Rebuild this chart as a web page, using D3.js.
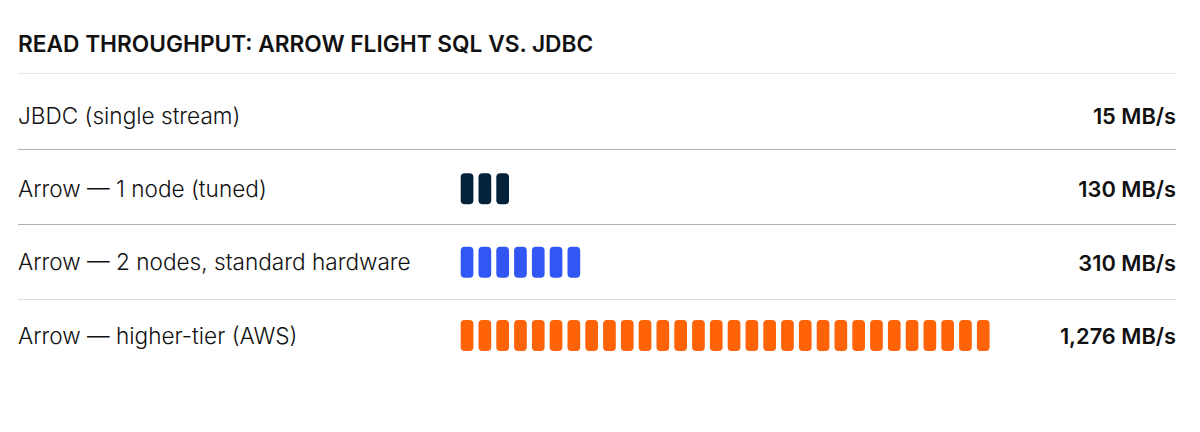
<!DOCTYPE html>
<html>
<head>
<meta charset="utf-8">
<script src="https://cdn.jsdelivr.net/npm/d3@7"></script>
<style>
  body { margin: 0; background: #fff; }
  text { font-family: Inter, "Noto Sans", sans-serif; fill: #111; }
</style>
</head>
<body>
<svg id="canvas"></svg>
<script>
// data
let title = "READ THROUGHPUT: ARROW FLIGHT SQL VS. JDBC";
let labels = [
  "JBDC (single stream)",
  "Arrow \u2014 1 node (tuned)",
  "Arrow \u2014 2 nodes, standard hardware",
  "Arrow \u2014 higher-tier (AWS)"
];
let values = [15, 130, 310, 1276];
let valueLabels = ["15 MB/s", "130 MB/s", "310 MB/s", "1,276 MB/s"];
let colors = ["#04223a", "#04223a", "#3156f3", "#ff6307"];
let unitSize = 42.5; // MB/s per block

let width = 1200;
let height = 432;

let canvas = d3.select("#canvas");
canvas.attr("width", width).attr("height", height);

// row centres and the rules between them
let yScale = d3.scalePoint().domain(d3.range(labels.length)).range([115.5, 335.5]);
let ruleScale = d3.scaleLinear().domain([1, 3]).range([149.5, 300]);
let xUnit = d3.scaleLinear().domain([0, 1]).range([460.7, 478.5]);

// title
canvas.append("text")
  .attr("x", 18)
  .attr("y", 51.5)
  .attr("font-size", 22.7)
  .attr("font-weight", 600)
  .text(title);

// top rule
canvas.append("line")
  .attr("x1", 18).attr("x2", 1176)
  .attr("y1", 73.5).attr("y2", 73.5)
  .attr("stroke", "#e6e6e6");

// row dividers
let lineColors = ["#b0b0b0", "#b0b0b0", "#dcdcdc"];
canvas.selectAll("line.divider")
  .data(d3.range(1, labels.length))
  .enter()
  .append("line")
  .attr("class", "divider")
  .attr("x1", 18).attr("x2", 1176)
  .attr("y1", (i) => Math.round(ruleScale(i)) - 0.5)
  .attr("y2", (i) => Math.round(ruleScale(i)) - 0.5)
  .attr("stroke", (i) => lineColors[i - 1]);

let rows = canvas.selectAll("g.row")
  .data(labels.map((l, i) => ({ label: l, value: values[i], text: valueLabels[i], color: colors[i], i: i })))
  .enter()
  .append("g")
  .attr("class", "row")
  .attr("transform", (d) => "translate(0," + yScale(d.i) + ")");

rows.append("text")
  .attr("x", 18)
  .attr("y", 8.2)
  .attr("font-size", 22.6)
  .attr("font-weight", 300)
  .text((d) => d.label);

rows.append("text")
  .attr("x", 1176)
  .attr("y", 8.5)
  .attr("text-anchor", "end")
  .attr("font-size", 21.8)
  .attr("font-weight", 600)
  .text((d) => d.text);

rows.each(function (d) {
  let n = Math.round(d.value / unitSize);
  d3.select(this).selectAll("rect")
    .data(d3.range(n))
    .enter()
    .append("rect")
    .attr("x", (k) => xUnit(k))
    .attr("y", -15.5)
    .attr("width", 12.7)
    .attr("height", 31)
    .attr("rx", 4)
    .attr("fill", d.color);
});
</script>
</body>
</html>
